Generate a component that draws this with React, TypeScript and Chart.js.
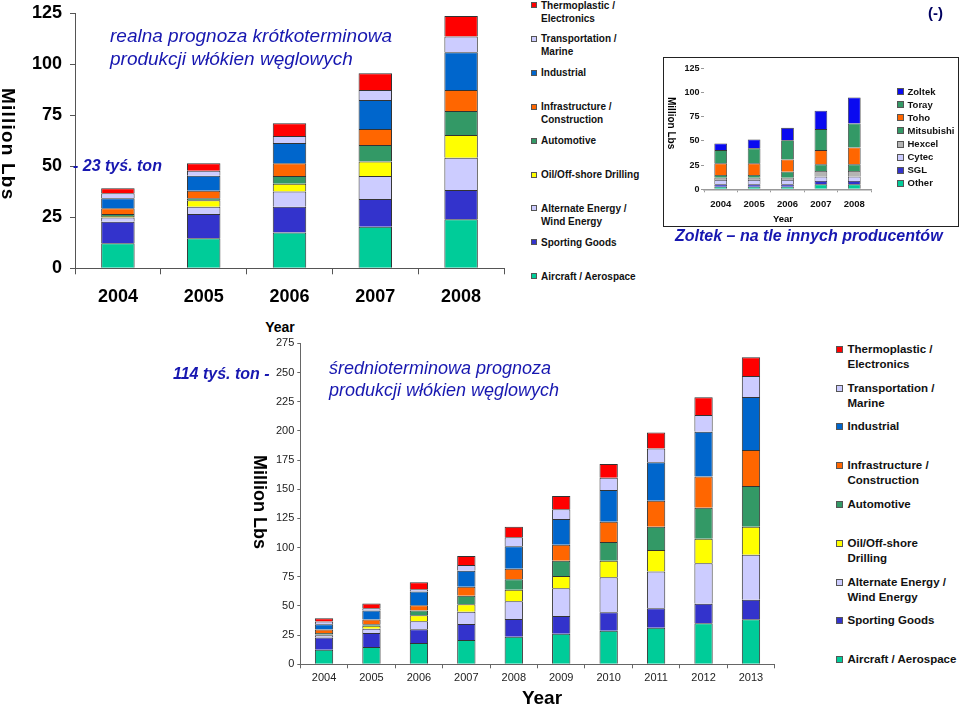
import React, { useEffect, useRef } from 'react';
import Chart from 'chart.js/auto';

const SANS = '"Liberation Sans", Arial, Helvetica, sans-serif';
const NARROW = '"Liberation Sans Narrow", "Arial Narrow", "Liberation Sans", Arial, sans-serif';
const BLUE = '#1717b0';

// ---------- categories ----------
const yearsShort = ['2004', '2005', '2006', '2007', '2008'];
const yearsLong = ['2004', '2005', '2006', '2007', '2008', '2009', '2010', '2011', '2012', '2013'];

// ---------- application series (bottom -> top) ----------
const seriesNames = [
  'Aircraft / Aerospace',
  'Sporting Goods',
  'Alternate Energy / Wind Energy',
  'Oil/Off-shore Drilling',
  'Automotive',
  'Infrastructure / Construction',
  'Industrial',
  'Transportation / Marine',
  'Thermoplastic / Electronics',
];
const seriesColors = ['#00cc99', '#3333cc', '#ccccff', '#ffff00', '#339966', '#ff6600', '#0066cc', '#ccccff', '#ff0000'];

// legend lines (same order as series, bottom -> top)
const legendTopLines = [
  ['Aircraft / Aerospace'],
  ['Sporting Goods'],
  ['Alternate Energy /', 'Wind Energy'],
  ['Oil/Off-shore Drilling'],
  ['Automotive'],
  ['Infrastructure /', 'Construction'],
  ['Industrial'],
  ['Transportation /', 'Marine'],
  ['Thermoplastic /', 'Electronics'],
];
const legendBottomLines = [
  ['Aircraft / Aerospace'],
  ['Sporting Goods'],
  ['Alternate Energy /', 'Wind Energy'],
  ['Oil/Off-shore', 'Drilling'],
  ['Automotive'],
  ['Infrastructure /', 'Construction'],
  ['Industrial'],
  ['Transportation /', 'Marine'],
  ['Thermoplastic /', 'Electronics'],
];

// ---------- short-term forecast 2004-2008 (Million Lbs) ----------
const shortAircraft = [12.3, 14.7, 17.5, 20.4, 24.0];
const shortSporting = [10.5, 11.9, 12.7, 13.6, 14.4];
const shortAltEnergy = [2.1, 3.6, 7.4, 11.3, 15.8];
const shortOil = [0.7, 3.1, 3.9, 7.0, 11.2];
const shortAutomotive = [1.0, 1.0, 3.8, 8.2, 11.7];
const shortInfrastructure = [2.8, 3.7, 6.2, 7.8, 10.3];
const shortIndustrial = [4.9, 7.4, 9.9, 14.2, 18.5];
const shortTransport = [2.5, 2.4, 3.5, 4.9, 7.7];
const shortThermo = [2.4, 3.7, 6.2, 8.2, 10.1];

// ---------- mid-term forecast 2004-2013 (Million Lbs) ----------
const longAircraft = [12.4, 14.9, 18.3, 20.8, 23.7, 26.2, 28.8, 31.4, 35.1, 38.6];
const longSporting = [10.6, 12.0, 11.8, 13.8, 15.1, 15.2, 15.8, 16.6, 16.8, 16.8];
const longAltEnergy = [1.8, 3.6, 6.8, 10.5, 15.2, 23.7, 29.9, 31.4, 34.6, 38.5];
const longOil = [0.8, 2.6, 5.1, 6.3, 9.9, 10.6, 14.3, 18.5, 21.1, 24.0];
const longAutomotive = [1.2, 1.2, 4.0, 7.4, 8.9, 13.1, 16.0, 20.0, 26.6, 34.9];
const longInfrastructure = [3.0, 4.1, 4.6, 7.7, 9.1, 13.7, 17.4, 22.3, 26.6, 30.8];
const longIndustrial = [4.6, 7.7, 11.8, 13.7, 19.2, 22.0, 27.2, 32.9, 38.5, 45.4];
const longTransport = [2.2, 2.0, 2.0, 4.9, 7.7, 8.3, 10.5, 11.7, 14.3, 18.0];
const longThermo = [2.8, 4.0, 5.9, 7.7, 9.1, 11.4, 11.7, 13.7, 15.2, 16.1];

// ---------- producers 2004-2008 (bottom -> top) ----------
const producerNames = ['Other', 'SGL', 'Cytec', 'Hexcel', 'Mitsubishi', 'Toho', 'Toray', 'Zoltek'];
const producerColors = ['#00cc99', '#3333cc', '#ccccff', '#b4b4b4', '#339966', '#ff6600', '#339966', '#0a0af0'];
const prodOther = [2.7, 2.7, 2.7, 5.1, 5.1];
const prodSGL = [2.4, 2.4, 2.4, 3.5, 3.5];
const prodCytec = [4.5, 4.5, 4.5, 4.4, 4.4];
const prodHexcel = [2.4, 2.4, 2.4, 5.9, 5.9];
const prodMitsubishi = [2.7, 2.7, 6.1, 6.9, 6.9];
const prodToho = [12.1, 12.1, 12.8, 14.7, 17.5];
const prodToray = [13.7, 15.5, 19.9, 21.7, 24.7];
const prodZoltek = [6.9, 9.2, 12.7, 18.9, 26.8];

const shortSeries = [shortAircraft, shortSporting, shortAltEnergy, shortOil, shortAutomotive, shortInfrastructure, shortIndustrial, shortTransport, shortThermo];
const longSeries = [longAircraft, longSporting, longAltEnergy, longOil, longAutomotive, longInfrastructure, longIndustrial, longTransport, longThermo];
const prodSeries = [prodOther, prodSGL, prodCytec, prodHexcel, prodMitsubishi, prodToho, prodToray, prodZoltek];

type BarProps = {
  left: number; top: number; width: number; height: number;
  labels: string[]; series: number[][]; names: string[]; colors: string[];
  yMax: number; yWidth: number; xHeight: number; padTop: number; padRight: number;
  yFont: any; xFont: any; yPad: number; xPad: number; yTickLen: number; xTickLen: number;
  axisColor: string; tickColor: string; yBorder: boolean; xBorderColor?: string; xBorderWidth?: number;
  barPct: number; barBorder: number;
};

function StackedBar(p: BarProps) {
  const ref = useRef<HTMLCanvasElement>(null);
  useEffect(() => {
    if (!ref.current) return;
    const chart = new Chart(ref.current, {
      type: 'bar',
      data: {
        labels: p.labels,
        datasets: p.series.map((d, i) => ({
          label: p.names[i],
          data: d,
          backgroundColor: p.colors[i],
          borderColor: '#333333',
          borderWidth: p.barBorder,
          barPercentage: p.barPct,
          categoryPercentage: 1,
        })),
      },
      options: {
        responsive: false,
        animation: false,
        plugins: { legend: { display: false }, tooltip: { enabled: false }, title: { display: false } },
        layout: { padding: { top: p.padTop, right: p.padRight, left: 0, bottom: 0 } },
        scales: {
          x: {
            stacked: true,
            offset: true,
            grid: { offset: true, drawOnChartArea: false, drawTicks: true, tickLength: p.xTickLen, color: p.axisColor },
            border: { display: true, color: p.xBorderColor || p.axisColor, width: p.xBorderWidth || 1 },
            ticks: { font: p.xFont, color: p.tickColor, padding: p.xPad, maxRotation: 0, autoSkip: false },
            afterFit: (s: any) => { s.height = p.xHeight; s.paddingLeft = 0; s.paddingRight = 0; },
          },
          y: {
            stacked: true,
            min: 0,
            max: p.yMax,
            grid: { drawOnChartArea: false, drawTicks: true, tickLength: p.yTickLen, color: p.axisColor },
            border: { display: p.yBorder, color: p.axisColor },
            ticks: { stepSize: 25, font: p.yFont, color: p.tickColor, padding: p.yPad },
            afterFit: (s: any) => { s.width = p.yWidth; s.paddingTop = 0; s.paddingBottom = 0; },
          },
        },
      },
    });
    return () => chart.destroy();
  }, []);
  return (
    <canvas
      ref={ref}
      width={p.width}
      height={p.height}
      style={{ position: 'absolute', left: p.left, top: p.top, width: p.width, height: p.height }}
    />
  );
}

function Txt(props: { x: number; y: number; size: number; bold?: boolean; italic?: boolean; color?: string; lh?: number; center?: boolean; children: any; ls?: number }) {
  const style: any = {
    position: 'absolute',
    left: props.x,
    top: props.y,
    fontFamily: SANS,
    fontSize: props.size,
    fontWeight: props.bold ? 'bold' : 'normal',
    fontStyle: props.italic ? 'italic' : 'normal',
    color: props.color || '#000',
    lineHeight: (props.lh || props.size) + 'px',
    whiteSpace: 'nowrap',
    letterSpacing: props.ls ? props.ls + 'px' : undefined,
  };
  if (props.center) style.transform = 'translateX(-50%)';
  return <div style={style}>{props.children}</div>;
}

function VText(props: { x: number; y: number; size: number; ls?: number; children: any }) {
  return (
    <div
      style={{
        position: 'absolute',
        left: props.x,
        top: props.y,
        fontFamily: SANS,
        fontSize: props.size,
        fontWeight: 'bold',
        lineHeight: props.size + 'px',
        writingMode: 'vertical-rl',
        whiteSpace: 'nowrap',
        letterSpacing: props.ls ? props.ls + 'px' : undefined,
        color: '#000',
      }}
    >
      {props.children}
    </div>
  );
}

function Legend(props: { x: number; firstY: number; step: number; lineH: number; size: number; sq: number; gap: number; lines: string[][]; colors: string[] }) {
  const n = props.lines.length;
  return (
    <>
      {props.lines.map((ls, i) => {
        const row = n - 1 - i; // top row is the last series
        const cy = props.firstY + row * props.step;
        return (
          <div key={i} style={{ position: 'absolute', left: props.x, top: cy - props.lineH / 2 }}>
            <div
              style={{
                position: 'absolute',
                left: 0,
                top: (props.lineH - props.sq) / 2,
                width: props.sq,
                height: props.sq,
                boxSizing: 'border-box',
                border: '1px solid #555',
                background: props.colors[i],
              }}
            />
            <div
              style={{
                position: 'absolute',
                left: props.sq + props.gap,
                top: 0,
                fontFamily: SANS,
                fontSize: props.size,
                fontWeight: 'bold',
                lineHeight: props.lineH + 'px',
                whiteSpace: 'nowrap',
                color: '#111',
              }}
            >
              {ls.map((t, k) => (
                <div key={k}>{t}</div>
              ))}
            </div>
          </div>
        );
      })}
    </>
  );
}

export default function App() {
  useEffect(() => {
    document.body.style.margin = '0';
  }, []);
  return (
    <div style={{ position: 'absolute', left: 0, top: 0, width: 960, height: 705, background: '#fff', overflow: 'hidden' }}>
      {/* ---------- short-term chart ---------- */}
      <StackedBar
        left={0} top={0} width={510} height={315}
        labels={yearsShort} series={shortSeries} names={seriesNames} colors={seriesColors}
        yMax={125} yWidth={75} xHeight={315 - 268.3} padTop={13.3} padRight={6}
        yFont={{ family: SANS, size: 18, weight: 'bold' }} xFont={{ family: SANS, size: 18, weight: 'bold' }}
        yPad={8} xPad={12} yTickLen={5} xTickLen={6}
        axisColor="#555555" tickColor="#000000" yBorder={true}
        barPct={0.39} barBorder={1}
      />
      <VText x={-1} y={88} size={19} ls={1.2}>Million Lbs</VText>
      <Txt x={280} y={320} size={14} bold center>Year</Txt>
      <Txt x={110} y={25.4} size={19} italic color={BLUE} lh={22.6}>
        <div>realna prognoza krótkoterminowa</div>
        <div>produkcji włókien węglowych</div>
      </Txt>
      <Txt x={73} y={157.7} size={16} bold italic color={BLUE}>- 23 tyś. ton</Txt>
      <Legend x={531} firstY={5} step={33.9} lineH={13} size={10} sq={6} gap={4} lines={legendTopLines} colors={seriesColors} />

      {/* ---------- producers chart ---------- */}
      <div style={{ position: 'absolute', left: 663, top: 57, width: 296, height: 170, border: '1.5px solid #222', boxSizing: 'border-box' }} />
      <StackedBar
        left={665} top={60} width={210} height={158}
        labels={yearsShort} series={prodSeries} names={producerNames} colors={producerColors}
        yMax={125} yWidth={39} xHeight={158 - 129.3} padTop={8.3} padRight={4}
        yFont={{ family: SANS, size: 9, weight: 'bold' }} xFont={{ family: SANS, size: 9.5, weight: 'bold' }}
        yPad={1.5} xPad={6} yTickLen={3} xTickLen={3}
        axisColor="#999999" tickColor="#111111" yBorder={false} xBorderColor="#999999" xBorderWidth={1.5}
        barPct={0.38} barBorder={0.8}
      />
      <VText x={666} y={96.7} size={10}>Million Lbs</VText>
      <Txt x={783} y={214} size={9.5} bold center>Year</Txt>
      <Legend x={897} firstY={91.7} step={13.08} lineH={12} size={9.5} sq={7} gap={3.5} lines={producerNames.map((n) => [n])} colors={producerColors} />
      <Txt x={675} y={228} size={16} bold italic color={BLUE}>Zoltek – na tle innych producentów</Txt>
      <Txt x={928} y={4.5} size={15} bold color="#000060">(-)</Txt>

      {/* ---------- mid-term chart ---------- */}
      <StackedBar
        left={250} top={330} width={545} height={375}
        labels={yearsLong} series={longSeries} names={seriesNames} colors={seriesColors}
        yMax={275} yWidth={50.3} xHeight={375 - 334.3} padTop={13.3} padRight={20.3}
        yFont={{ family: NARROW, size: 11 }} xFont={{ family: NARROW, size: 11 }}
        yPad={3} xPad={3} yTickLen={3} xTickLen={4}
        axisColor="#666666" tickColor="#222222" yBorder={true}
        barPct={0.386} barBorder={1}
      />
      <VText x={250.5} y={455} size={18}>Million Lbs</VText>
      <Txt x={542} y={687.5} size={19} bold center>Year</Txt>
      <Txt x={329} y={356.7} size={18} italic color={BLUE} lh={22.5}>
        <div>średnioterminowa prognoza</div>
        <div>produkcji włókien węglowych</div>
      </Txt>
      <Txt x={173} y={366} size={16} bold italic color={BLUE}>114 tyś. ton -</Txt>
      <Legend x={836} firstY={349.3} step={38.8} lineH={15} size={11.5} sq={7} gap={4.5} lines={legendBottomLines} colors={seriesColors} />
    </div>
  );
}
